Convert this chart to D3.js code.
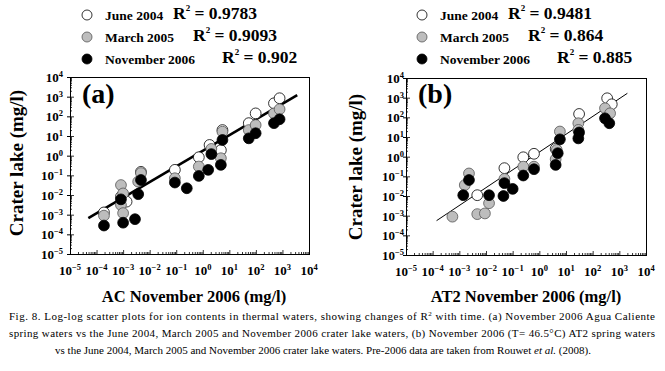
<!DOCTYPE html>
<html>
<head>
<meta charset="utf-8">
<script src="https://cdn.jsdelivr.net/npm/d3@7/dist/d3.min.js"></script>
<style>
    body { margin: 0; background: #fff; }
    svg { display: block; font-family: "Liberation Serif", "Times New Roman", serif; }
</style>
</head>
<body>
<svg id="fig" width="665" height="371"></svg>
<script>
// decades shown on both log axes
const decades = [-5, -4, -3, -2, -1, 0, 1, 2, 3, 4];
const seriesNames = ["June 2004", "March 2005", "November 2006"];
const r2A = ["0.9783", "0.9093", "0.902"];
const r2B = ["0.9481", "0.864", "0.885"];

// (a) AC spring (x) vs crater lake (y), mg/l
const juneA = [
    [1.9e-4, 1.3e-3], [8.3e-4, 8.2e-3], [1.35e-3, 4.6e-3], [4.7e-3, 0.15], [0.089, 0.19],
    [0.71, 0.83], [1.8, 3.5], [4.8, 1.9], [5.5, 20], [54, 45], [98, 141], [480, 460], [780, 830]
];
const marchA = [
    [1.9e-4, 8.9e-4], [8.3e-4, 0.032], [1.0e-3, 0.012], [8.3e-4, 3.1e-3], [1.0e-3, 1.2e-3],
    [3.7e-3, 0.048], [4.7e-3, 0.13], [0.089, 0.071], [0.71, 0.28], [2.1, 2.2], [4.8, 0.74],
    [5.5, 16.6], [54, 20], [98, 36], [480, 141], [780, 229]
];
const novA = [
    [1.9e-4, 2.8e-4], [1.0e-3, 3.9e-4], [2.8e-3, 5.9e-4], [8.3e-4, 6.0e-3], [3.7e-3, 0.011],
    [4.7e-3, 0.058], [0.089, 0.043], [0.25, 0.022], [0.71, 0.093], [1.6, 0.19], [2.1, 1.2],
    [4.8, 0.34], [5.5, 6.3], [54, 7.6], [98, 13.8], [480, 45], [780, 71]
];

// (b) AT2 spring (x) vs crater lake (y), mg/l
const juneB = [
    [4.7e-3, 0.011], [0.049, 0.26], [0.25, 0.93], [0.63, 1.4], [4.1, 2.5],
    [31, 148], [350, 930], [520, 460]
];
const marchB = [
    [5.5e-4, 8.9e-4], [2.3e-3, 0.14], [1.6e-3, 0.036], [4.7e-3, 1.2e-3], [9.1e-3, 1.3e-3],
    [0.013, 4.3e-3], [0.049, 0.074], [0.25, 0.31], [0.63, 0.31], [4.1, 0.74], [4.5, 2.2],
    [5.9, 19], [29, 50], [29, 23], [290, 290], [450, 160]
];
const novB = [
    [1.4e-3, 0.011], [2.3e-3, 0.065], [0.013, 0.011], [0.045, 0.010], [0.049, 0.045],
    [0.10, 0.023], [0.25, 0.11], [0.63, 0.23], [4.1, 0.38], [4.9, 1.5], [5.9, 7.6],
    [29, 8.5], [31, 17], [290, 89], [420, 50]
];

// fitted lines in log-log space: [slope, intercept], and x extent
const fitA = [0.795, 0.25];
const fitRangeA = [4.9e-5, 3.6e3];
const fitB = [0.905, 0.234];
const fitRangeB = [1.4e-4, 2.0e3];

const captionLines = [
    ["Fig. 8. Log-log scatter plots for ion contents in thermal waters, showing changes of R", "2", " with time. (a) November 2006 Agua Caliente"],
    ["spring waters vs the June 2004, March 2005 and November 2006 crater lake waters, (b) November 2006 (T= 46.5\u00B0C) AT2 spring waters"],
    ["vs the June 2004, March 2005 and November 2006 crater lake waters. Pre-2006 data are taken from Rouwet ", "et al.", " (2008)."]
];

const fills = ["#ffffff", "#bdbdbd", "#000000"];
const svg = d3.select("#fig");

const panels = [
    { tag: "(a)", left: 70, right: 309, top: 77, bottom: 254, series: [juneA, marchA, novA],
      fit: fitA, fitRange: fitRangeA, fitWidth: 2.6, r2: r2A, legendX: 87,
      xTitle: "AC November 2006 (mg/l)", xTitleX: 194, yTitleX: 23, yTitleY: 163, labelGap: 7 },
    { tag: "(b)", left: 406, right: 646, top: 78, bottom: 255, series: [juneB, marchB, novB],
      fit: fitB, fitRange: fitRangeB, fitWidth: 1, r2: r2B, legendX: 422,
      xTitle: "AT2 November 2006 (mg/l)", xTitleX: 526, yTitleX: 362, yTitleY: 167, labelGap: 2 }
];

const majors = decades.map(e => Math.pow(10, e));
const minors = [];
decades.slice(0, -1).forEach(e => {
    for (let k = 2; k < 10; k++) minors.push(k * Math.pow(10, e));
});

function expLabel(sel, e) {
    sel.append("tspan").text("10");
    sel.append("tspan")
        .attr("dy", -5)
        .attr("font-size", 8.5)
        .text(e < 0 ? "\u2212" + Math.abs(e) : String(e));
}

panels.forEach(p => {
    const x = d3.scaleLog().domain([1e-5, 1e4]).range([p.left, p.right]);
    const y = d3.scaleLog().domain([1e-5, 1e4]).range([p.bottom, p.top]);
    const g = svg.append("g");

    // minor + major ticks, pointing inwards
    const xMinor = g.append("g").attr("transform", `translate(0,${p.bottom})`)
        .call(d3.axisBottom(x).tickValues(minors).tickSize(-2).tickFormat(""));
    const xMajor = g.append("g").attr("transform", `translate(0,${p.bottom})`)
        .call(d3.axisBottom(x).tickValues(majors).tickSize(-4).tickFormat(""));
    const yMinor = g.append("g").attr("transform", `translate(${p.left},0)`)
        .call(d3.axisLeft(y).tickValues(minors).tickSize(-2).tickFormat(""));
    const yMajor = g.append("g").attr("transform", `translate(${p.left},0)`)
        .call(d3.axisLeft(y).tickValues(majors).tickSizeInner(-4).tickSizeOuter(0).tickFormat(""));
    [xMinor, xMajor, yMinor, yMajor].forEach(a => {
        a.select(".domain").remove();
        a.selectAll("line").attr("stroke", "#000").attr("stroke-width", 0.8);
    });
    yMajor.selectAll(".tick").append("line").attr("x1", -3).attr("x2", 0).attr("stroke", "#000");

    g.append("rect")
        .attr("x", p.left + 0.5).attr("y", p.top + 0.5)
        .attr("width", p.right - p.left).attr("height", p.bottom - p.top)
        .attr("fill", "none").attr("stroke", "#000").attr("stroke-width", 1);

    // tick labels
    decades.forEach(e => {
        const v = Math.pow(10, e);
        g.append("text")
            .attr("x", x(v)).attr("y", p.bottom + 21)
            .attr("text-anchor", "middle")
            .attr("font-size", 13).attr("font-weight", "bold")
            .call(expLabel, e);
        g.append("text")
            .attr("x", p.left - p.labelGap).attr("y", y(v) + 5)
            .attr("text-anchor", "end")
            .attr("font-size", 13).attr("font-weight", "bold")
            .call(expLabel, e);
    });

    // fit line
    const [slope, icpt] = p.fit;
    const fitPts = p.fitRange.map(v => [v, Math.pow(10, icpt) * Math.pow(v, slope)]);
    g.append("line")
        .attr("x1", x(fitPts[0][0])).attr("y1", y(fitPts[0][1]))
        .attr("x2", x(fitPts[1][0])).attr("y2", y(fitPts[1][1]))
        .attr("stroke", "#000").attr("stroke-width", p.fitWidth);

    // points: June under March under November
    p.series.forEach((data, i) => {
        g.append("g").selectAll("circle")
            .data(data)
            .enter()
            .append("circle")
            .attr("cx", d => x(d[0]))
            .attr("cy", d => y(d[1]))
            .attr("r", 5.4)
            .attr("fill", fills[i])
            .attr("stroke", i === 1 ? "#555" : "#000")
            .attr("stroke-width", 0.8);
    });

    g.append("text")
        .attr("x", p.left + 12).attr("y", 103)
        .attr("font-size", 28).attr("font-weight", "bold")
        .text(p.tag);

    g.append("text")
        .attr("x", p.xTitleX).attr("y", 302)
        .attr("text-anchor", "middle")
        .attr("font-size", 16.5).attr("font-weight", "bold")
        .text(p.xTitle);

    g.append("text")
        .attr("transform", `translate(${p.yTitleX},${p.yTitleY}) rotate(-90)`)
        .attr("text-anchor", "middle")
        .attr("font-size", 19).attr("font-weight", "bold")
        .text("Crater lake (mg/l)");

    // legend with R2 per campaign
    const rowY = [15, 37, 59];
    const r2Off = [86, 106, 135];
    seriesNames.forEach((name, i) => {
        g.append("circle")
            .attr("cx", p.legendX).attr("cy", rowY[i]).attr("r", 5)
            .attr("fill", fills[i])
            .attr("stroke", i === 1 ? "#555" : "#000").attr("stroke-width", 0.8);
        g.append("text")
            .attr("x", p.legendX + 18).attr("y", rowY[i] + 4.5)
            .attr("font-size", 13.5).attr("font-weight", "bold")
            .text(name);
        const t = g.append("text")
            .attr("x", p.legendX + r2Off[i]).attr("y", rowY[i] + 4)
            .attr("font-size", 17.5).attr("font-weight", "bold");
        t.append("tspan").text("R");
        t.append("tspan").attr("dy", -8).attr("font-size", 9).text("2");
        t.append("tspan").attr("dy", 8).text(" = " + p.r2[i]);
    });
});

// caption
const capY = [320, 337, 354];
captionLines.forEach((parts, i) => {
    const t = svg.append("text")
        .attr("y", capY[i])
        .attr("font-size", 11);
    if (i < 2) {
        t.attr("x", 9).attr("textLength", 646).attr("lengthAdjust", "spacing");
    } else {
        t.attr("x", 323).attr("text-anchor", "middle");
    }
    parts.forEach((s, j) => {
        const span = t.append("tspan").text(s);
        if (i === 0 && j === 1) span.attr("dy", -4).attr("font-size", 7);
        if (i === 0 && j === 2) span.attr("dy", 4);
        if (i === 2 && j === 1) span.attr("font-style", "italic");
    });
});
</script>
</body>
</html>
